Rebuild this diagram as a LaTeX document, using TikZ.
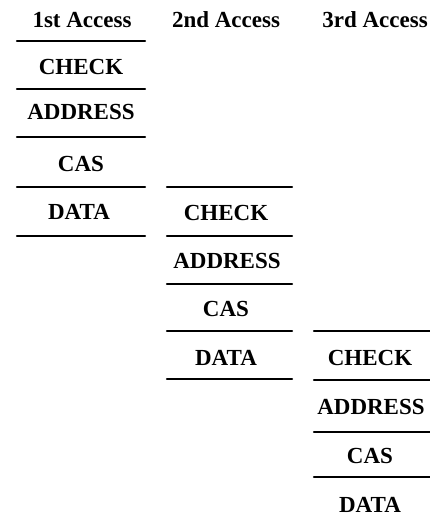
\documentclass[tikz,border=0pt]{standalone}
\usepackage{fontspec}
\setmainfont{Liberation Serif}
\begin{document}
\begin{tikzpicture}[x=1pt,y=-1pt,
  lbl/.style={inner sep=0pt,font=\fontsize{23}{27}\selectfont\bfseries},
  sep/.style={line width=2.4pt,line cap=round}]
\useasboundingbox (0,0) rectangle (429,527);
% headers
\node[lbl] (h1) at (82,20) {1st Access};
\node[lbl] (h2) at (226,20) {2nd Access};
\node[lbl] (h3) at (375,20) {3rd Access};
% column 1
\foreach \y in {41,89,137,187,236}
  \draw[sep] (17,\y) -- (145,\y);
\node[lbl] (c1a) at (81,67) {CHECK};
\node[lbl] (c1b) at (81,112) {ADDRESS};
\node[lbl] (c1c) at (81,164) {CAS};
\node[lbl] (c1d) at (79,212) {DATA};
% column 2
\foreach \y in {187,236,284,331,379}
  \draw[sep] (167,\y) -- (292,\y);
\node[lbl] (c2a) at (226,213) {CHECK};
\node[lbl] (c2b) at (227,261) {ADDRESS};
\node[lbl] (c2c) at (226,309) {CAS};
\node[lbl] (c2d) at (226,358) {DATA};
% column 3
\foreach \y in {331,380,432,477}
  \draw[sep] (314,\y) -- (432,\y);
\node[lbl] (c3a) at (370,358) {CHECK};
\node[lbl] (c3b) at (371,407) {ADDRESS};
\node[lbl] (c3c) at (370,456) {CAS};
\node[lbl] (c3d) at (370,505) {DATA};
\end{tikzpicture}
\end{document}
